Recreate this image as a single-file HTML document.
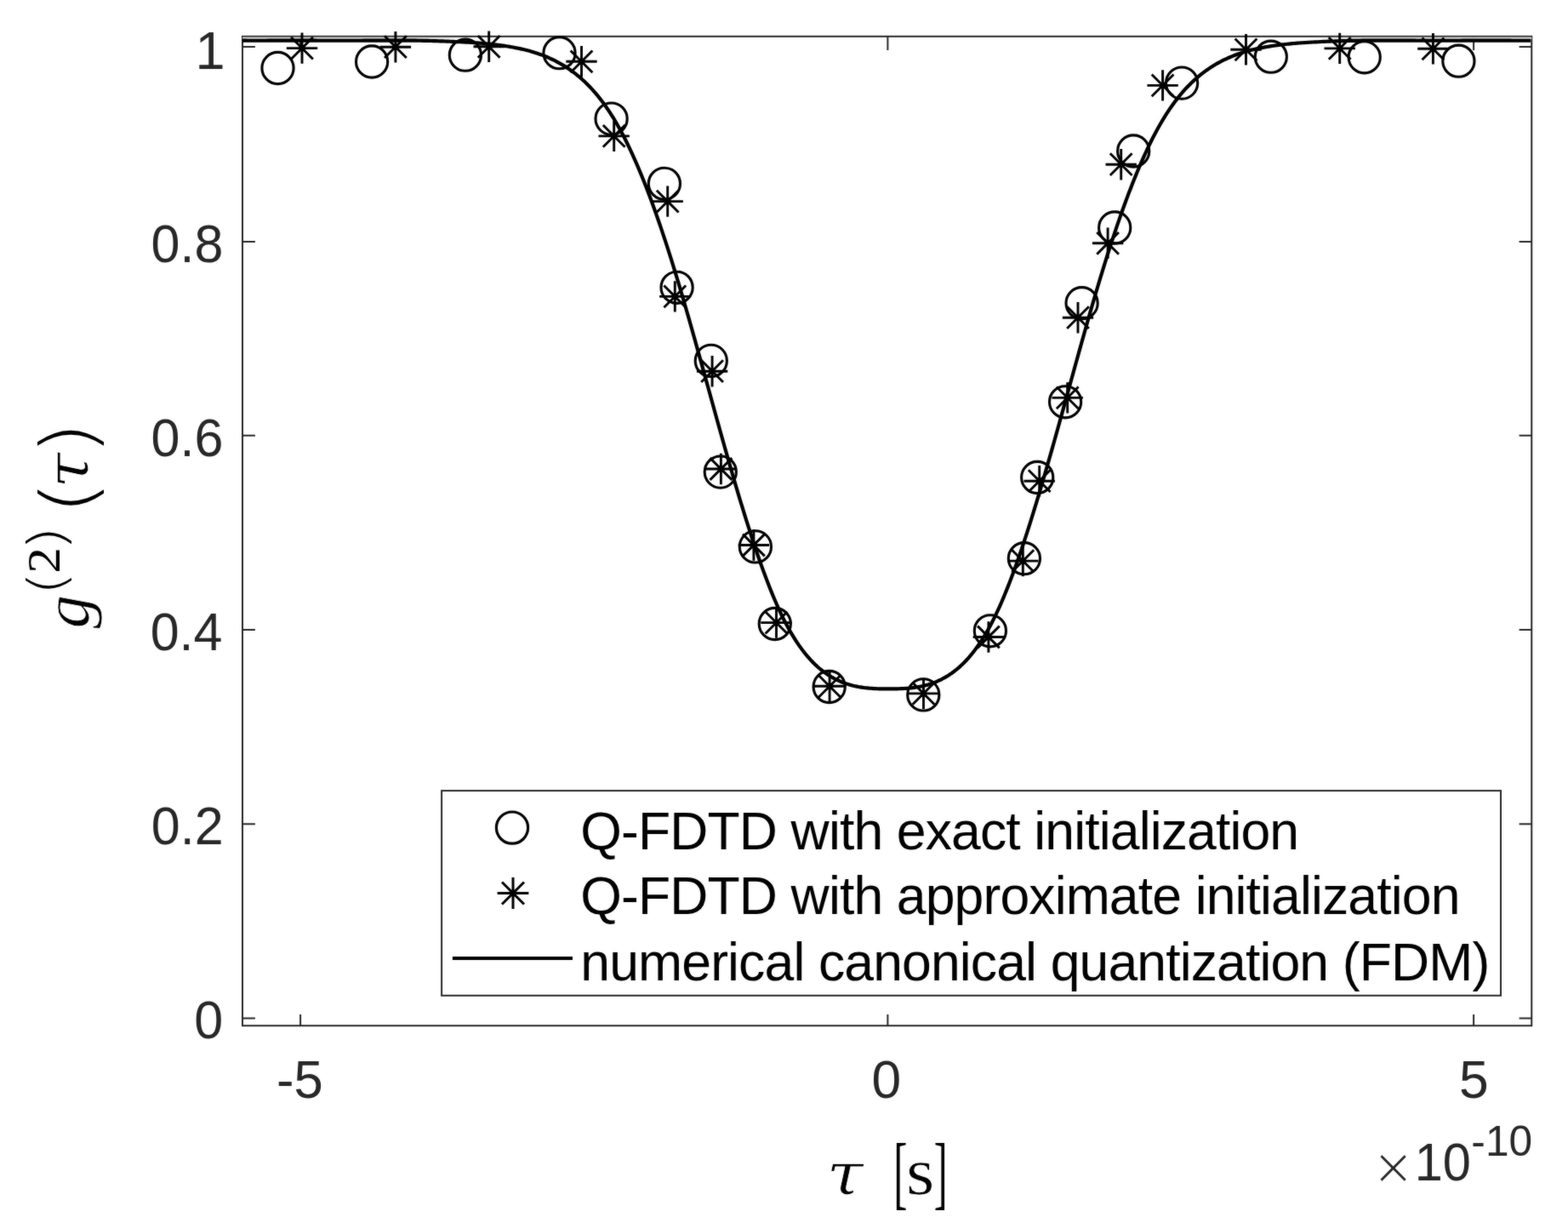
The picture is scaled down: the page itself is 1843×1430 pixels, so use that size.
<!DOCTYPE html>
<html lang="en"><head><meta charset="utf-8"><title>g2 plot</title>
<style>
html,body{margin:0;padding:0;background:#fff;}
body{width:1843px;height:1430px;overflow:hidden;}
svg{display:block;}
.lg{font-family:"Liberation Sans",sans-serif;font-size:62.5px;letter-spacing:-0.87px;fill:#000;}
</style></head><body>
<svg width="1843" height="1430" viewBox="0 0 1843 1430">
<rect x="0" y="0" width="1843" height="1430" fill="#fff"/>
<defs><filter id="soft" x="0" y="0" width="1843" height="1430" filterUnits="userSpaceOnUse" color-interpolation-filters="sRGB"><feGaussianBlur in="SourceGraphic" stdDeviation="0.8" result="b"/><feComposite in="SourceGraphic" in2="b" operator="arithmetic" k1="0" k2="0.70" k3="0.30" k4="0"/></filter></defs>
<g filter="url(#soft)">
<defs><clipPath id="ax"><rect x="285.0" y="42.8" width="1515.25" height="1162.40"/></clipPath></defs>
<g fill="none" stroke="#262626" stroke-width="2.0">
<rect x="285.0" y="42.8" width="1515.25" height="1162.40"/>
<path d="M353.10,1205.2V1192.0M353.10,42.8V58.9M1043.40,1205.2V1192.0M1043.40,42.8V58.9M1732.10,1205.2V1192.0M1732.10,42.8V58.9M285.0,55.10H299.9M1800.25,55.10H1785.6M285.0,284.00H299.9M1800.25,284.00H1785.6M285.0,511.80H299.9M1800.25,511.80H1785.6M285.0,740.00H299.9M1800.25,740.00H1785.6M285.0,968.20H299.9M1800.25,968.20H1785.6M285.0,1196.40H299.9M1800.25,1196.40H1785.6"/>
</g>
<defs><linearGradient id="gb" x1="0" x2="1" y1="0" y2="0"><stop offset="0" stop-color="#cfcfcf"/><stop offset="0.135" stop-color="#cfcfcf"/><stop offset="0.175" stop-color="#cfcfcf" stop-opacity="0"/><stop offset="0.83" stop-color="#cfcfcf" stop-opacity="0"/><stop offset="0.87" stop-color="#cfcfcf"/><stop offset="1" stop-color="#cfcfcf"/></linearGradient></defs>
<rect x="285.0" y="43.6" width="1515.25" height="2.4" fill="url(#gb)"/>
<g fill="none" stroke="#000">
<g stroke-width="3.1">
<circle cx="326.5" cy="80.0" r="18.6"/>
<circle cx="437.1" cy="72.5" r="18.6"/>
<circle cx="546.9" cy="64.7" r="18.6"/>
<circle cx="657.5" cy="62.2" r="18.6"/>
<circle cx="718.6" cy="139.6" r="18.6"/>
<circle cx="780.9" cy="215.8" r="18.6"/>
<circle cx="795.6" cy="337.8" r="18.6"/>
<circle cx="835.8" cy="423.9" r="18.6"/>
<circle cx="846.8" cy="554.6" r="18.6"/>
<circle cx="887.9" cy="642.4" r="18.6"/>
<circle cx="910.8" cy="733.0" r="18.6"/>
<circle cx="974.7" cy="807.0" r="18.6"/>
<circle cx="1085.3" cy="816.4" r="18.6"/>
<circle cx="1163.9" cy="741.3" r="18.6"/>
<circle cx="1203.9" cy="656.2" r="18.6"/>
<circle cx="1219.2" cy="561.0" r="18.6"/>
<circle cx="1252.1" cy="472.3" r="18.6"/>
<circle cx="1271.6" cy="356.2" r="18.6"/>
<circle cx="1310.2" cy="267.5" r="18.6"/>
<circle cx="1332.2" cy="177.5" r="18.6"/>
<circle cx="1389.1" cy="97.6" r="18.6"/>
<circle cx="1493.8" cy="66.7" r="18.6"/>
<circle cx="1603.7" cy="67.3" r="18.6"/>
<circle cx="1714.4" cy="71.7" r="18.6"/>
</g>
<path stroke-width="2.9" d="M336.80,56.60H373.20M355.00,38.40V74.80M342.13,43.73L367.87,69.47M342.13,69.47L367.87,43.73M446.70,55.20H483.10M464.90,37.00V73.40M452.03,42.33L477.77,68.07M452.03,68.07L477.77,42.33M556.50,54.80H592.90M574.70,36.60V73.00M561.83,41.93L587.57,67.67M561.83,67.67L587.57,41.93M665.30,72.30H701.70M683.50,54.10V90.50M670.63,59.43L696.37,85.17M670.63,85.17L696.37,59.43M703.50,159.90H739.90M721.70,141.70V178.10M708.83,147.03L734.57,172.77M708.83,172.77L734.57,147.03M766.50,236.60H802.90M784.70,218.40V254.80M771.83,223.73L797.57,249.47M771.83,249.47L797.57,223.73M775.10,348.40H811.50M793.30,330.20V366.60M780.43,335.53L806.17,361.27M780.43,361.27L806.17,335.53M818.90,436.20H855.30M837.10,418.00V454.40M824.23,423.33L849.97,449.07M824.23,449.07L849.97,423.33M829.20,551.00H865.60M847.40,532.80V569.20M834.53,538.13L860.27,563.87M834.53,563.87L860.27,538.13M867.70,640.50H904.10M885.90,622.30V658.70M873.03,627.63L898.77,653.37M873.03,653.37L898.77,627.63M894.30,731.60H930.70M912.50,713.40V749.80M899.63,718.73L925.37,744.47M899.63,744.47L925.37,718.73M956.90,806.30H993.30M975.10,788.10V824.50M962.23,793.43L987.97,819.17M962.23,819.17L987.97,793.43M1067.30,814.90H1103.70M1085.50,796.70V833.10M1072.63,802.03L1098.37,827.77M1072.63,827.77L1098.37,802.03M1143.70,748.50H1180.10M1161.90,730.30V766.70M1149.03,735.63L1174.77,761.37M1149.03,761.37L1174.77,735.63M1184.10,659.10H1220.50M1202.30,640.90V677.30M1189.43,646.23L1215.17,671.97M1189.43,671.97L1215.17,646.23M1203.50,565.20H1239.90M1221.70,547.00V583.40M1208.83,552.33L1234.57,578.07M1208.83,578.07L1234.57,552.33M1236.50,467.40H1272.90M1254.70,449.20V485.60M1241.83,454.53L1267.57,480.27M1241.83,480.27L1267.57,454.53M1248.80,373.20H1285.20M1267.00,355.00V391.40M1254.13,360.33L1279.87,386.07M1254.13,386.07L1279.87,360.33M1283.90,285.80H1320.30M1302.10,267.60V304.00M1289.23,272.93L1314.97,298.67M1289.23,298.67L1314.97,272.93M1299.50,193.20H1335.90M1317.70,175.00V211.40M1304.83,180.33L1330.57,206.07M1304.83,206.07L1330.57,180.33M1348.40,100.40H1384.80M1366.60,82.20V118.60M1353.73,87.53L1379.47,113.27M1353.73,113.27L1379.47,87.53M1446.30,58.30H1482.70M1464.50,40.10V76.50M1451.63,45.43L1477.37,71.17M1451.63,71.17L1477.37,45.43M1556.50,56.90H1592.90M1574.70,38.70V75.10M1561.83,44.03L1587.57,69.77M1561.83,69.77L1587.57,44.03M1666.20,57.30H1702.60M1684.40,39.10V75.50M1671.53,44.43L1697.27,70.17M1671.53,70.17L1697.27,44.43"/>
<path clip-path="url(#ax)" stroke-width="4.17" stroke-linejoin="round" d="M285.0,47.70 L287.0,47.70 L289.0,47.70 L291.0,47.72 L293.0,47.72 L295.0,47.73 L297.0,47.73 L299.0,47.73 L301.0,47.72 L303.0,47.72 L305.0,47.72 L307.0,47.72 L309.0,47.71 L311.0,47.71 L313.0,47.71 L315.0,47.70 L317.0,47.70 L319.0,47.69 L321.0,47.69 L323.0,47.68 L325.0,47.68 L327.0,47.68 L329.0,47.67 L331.0,47.67 L333.0,47.66 L335.0,47.66 L337.0,47.66 L339.0,47.65 L341.0,47.65 L343.0,47.65 L345.0,47.65 L347.0,47.65 L349.0,47.65 L351.0,47.65 L353.0,47.66 L355.0,47.66 L357.0,47.66 L359.0,47.67 L361.0,47.67 L363.0,47.68 L365.0,47.68 L367.0,47.69 L369.0,47.70 L371.0,47.70 L373.0,47.71 L375.0,47.72 L377.0,47.72 L379.0,47.73 L381.0,47.73 L383.0,47.74 L385.0,47.75 L387.0,47.75 L389.0,47.76 L391.0,47.76 L393.0,47.76 L395.0,47.77 L397.0,47.77 L399.0,47.77 L401.0,47.77 L403.0,47.77 L405.0,47.77 L407.0,47.77 L409.0,47.77 L411.0,47.76 L413.0,47.76 L415.0,47.75 L417.0,47.75 L419.0,47.74 L421.0,47.73 L423.0,47.72 L425.0,47.71 L427.0,47.70 L429.0,47.69 L431.0,47.68 L433.0,47.67 L435.0,47.65 L437.0,47.64 L439.0,47.63 L441.0,47.62 L443.0,47.61 L445.0,47.60 L447.0,47.59 L449.0,47.58 L451.0,47.57 L453.0,47.57 L455.0,47.56 L457.0,47.56 L459.0,47.55 L461.0,47.55 L463.0,47.55 L465.0,47.55 L467.0,47.55 L469.0,47.55 L471.0,47.56 L473.0,47.57 L475.0,47.58 L477.0,47.59 L479.0,47.60 L481.0,47.62 L483.0,47.64 L485.0,47.66 L487.0,47.68 L489.0,47.70 L491.0,47.73 L493.0,47.76 L495.0,47.79 L497.0,47.83 L499.0,47.86 L501.0,47.90 L503.0,47.94 L505.0,47.99 L507.0,48.03 L509.0,48.08 L511.0,48.14 L513.0,48.19 L515.0,48.25 L517.0,48.31 L519.0,48.37 L521.0,48.44 L523.0,48.51 L525.0,48.58 L527.0,48.65 L529.0,48.73 L531.0,48.81 L533.0,48.89 L535.0,48.98 L537.0,49.07 L539.0,49.16 L541.0,49.25 L543.0,49.35 L545.0,49.45 L547.0,49.56 L549.0,49.67 L551.0,49.78 L553.0,49.90 L555.0,50.03 L557.0,50.16 L559.0,50.29 L561.0,50.44 L563.0,50.59 L565.0,50.75 L567.0,50.91 L569.0,51.09 L571.0,51.27 L573.0,51.46 L575.0,51.66 L577.0,51.87 L579.0,52.08 L581.0,52.31 L583.0,52.55 L585.0,52.80 L587.0,53.06 L589.0,53.33 L591.0,53.61 L593.0,53.90 L595.0,54.21 L597.0,54.53 L599.0,54.86 L601.0,55.21 L603.0,55.56 L605.0,55.94 L607.0,56.33 L609.0,56.73 L611.0,57.15 L613.0,57.59 L615.0,58.05 L617.0,58.53 L619.0,59.03 L621.0,59.56 L623.0,60.10 L625.0,60.67 L627.0,61.27 L629.0,61.89 L631.0,62.54 L633.0,63.22 L635.0,63.92 L637.0,64.66 L639.0,65.42 L641.0,66.22 L643.0,67.05 L645.0,67.92 L647.0,68.82 L649.0,69.75 L651.0,70.72 L653.0,71.73 L655.0,72.78 L657.0,73.87 L659.0,75.00 L661.0,76.17 L663.0,77.38 L665.0,78.63 L667.0,79.93 L669.0,81.28 L671.0,82.67 L673.0,84.12 L675.0,85.61 L677.0,87.17 L679.0,88.77 L681.0,90.44 L683.0,92.16 L685.0,93.95 L687.0,95.79 L689.0,97.71 L691.0,99.69 L693.0,101.74 L695.0,103.86 L697.0,106.05 L699.0,108.32 L701.0,110.67 L703.0,113.09 L705.0,115.59 L707.0,118.18 L709.0,120.84 L711.0,123.60 L713.0,126.44 L715.0,129.37 L717.0,132.40 L719.0,135.51 L721.0,138.72 L723.0,142.03 L725.0,145.44 L727.0,148.95 L729.0,152.56 L731.0,156.27 L733.0,160.09 L735.0,164.00 L737.0,168.02 L739.0,172.14 L741.0,176.35 L743.0,180.67 L745.0,185.08 L747.0,189.58 L749.0,194.19 L751.0,198.88 L753.0,203.67 L755.0,208.55 L757.0,213.53 L759.0,218.59 L761.0,223.74 L763.0,228.99 L765.0,234.32 L767.0,239.74 L769.0,245.25 L771.0,250.84 L773.0,256.52 L775.0,262.28 L777.0,268.12 L779.0,274.05 L781.0,280.06 L783.0,286.14 L785.0,292.31 L787.0,298.56 L789.0,304.89 L791.0,311.29 L793.0,317.77 L795.0,324.32 L797.0,330.94 L799.0,337.63 L801.0,344.38 L803.0,351.19 L805.0,358.05 L807.0,364.97 L809.0,371.93 L811.0,378.93 L813.0,385.98 L815.0,393.06 L817.0,400.17 L819.0,407.32 L821.0,414.48 L823.0,421.67 L825.0,428.88 L827.0,436.10 L829.0,443.33 L831.0,450.57 L833.0,457.81 L835.0,465.05 L837.0,472.29 L839.0,479.52 L841.0,486.74 L843.0,493.94 L845.0,501.12 L847.0,508.28 L849.0,515.42 L851.0,522.52 L853.0,529.59 L855.0,536.62 L857.0,543.62 L859.0,550.57 L861.0,557.47 L863.0,564.32 L865.0,571.12 L867.0,577.86 L869.0,584.55 L871.0,591.17 L873.0,597.72 L875.0,604.21 L877.0,610.62 L879.0,616.96 L881.0,623.22 L883.0,629.41 L885.0,635.50 L887.0,641.51 L889.0,647.43 L891.0,653.26 L893.0,658.99 L895.0,664.62 L897.0,670.14 L899.0,675.56 L901.0,680.88 L903.0,686.08 L905.0,691.16 L907.0,696.13 L909.0,700.98 L911.0,705.70 L913.0,710.29 L915.0,714.75 L917.0,719.08 L919.0,723.28 L921.0,727.33 L923.0,731.25 L925.0,735.05 L927.0,738.71 L929.0,742.24 L931.0,745.65 L933.0,748.94 L935.0,752.10 L937.0,755.15 L939.0,758.09 L941.0,760.91 L943.0,763.63 L945.0,766.23 L947.0,768.73 L949.0,771.13 L951.0,773.43 L953.0,775.63 L955.0,777.73 L957.0,779.74 L959.0,781.66 L961.0,783.49 L963.0,785.24 L965.0,786.90 L967.0,788.49 L969.0,789.99 L971.0,791.42 L973.0,792.77 L975.0,794.05 L977.0,795.27 L979.0,796.41 L981.0,797.50 L983.0,798.52 L985.0,799.48 L987.0,800.38 L989.0,801.23 L991.0,802.03 L993.0,802.77 L995.0,803.46 L997.0,804.10 L999.0,804.69 L1001.0,805.24 L1003.0,805.75 L1005.0,806.21 L1007.0,806.63 L1009.0,807.02 L1011.0,807.36 L1013.0,807.68 L1015.0,807.96 L1017.0,808.21 L1019.0,808.43 L1021.0,808.62 L1023.0,808.79 L1025.0,808.93 L1027.0,809.05 L1029.0,809.15 L1031.0,809.23 L1033.0,809.30 L1035.0,809.35 L1037.0,809.38 L1039.0,809.41 L1041.0,809.42 L1043.0,809.43 L1045.0,809.43 L1047.0,809.43 L1049.0,809.42 L1051.0,809.40 L1053.0,809.37 L1055.0,809.32 L1057.0,809.27 L1059.0,809.19 L1061.0,809.10 L1063.0,808.99 L1065.0,808.86 L1067.0,808.71 L1069.0,808.53 L1071.0,808.32 L1073.0,808.09 L1075.0,807.82 L1077.0,807.53 L1079.0,807.19 L1081.0,806.83 L1083.0,806.42 L1085.0,805.98 L1087.0,805.50 L1089.0,804.97 L1091.0,804.40 L1093.0,803.78 L1095.0,803.12 L1097.0,802.40 L1099.0,801.64 L1101.0,800.82 L1103.0,799.94 L1105.0,799.01 L1107.0,798.02 L1109.0,796.96 L1111.0,795.85 L1113.0,794.67 L1115.0,793.42 L1117.0,792.10 L1119.0,790.71 L1121.0,789.25 L1123.0,787.70 L1125.0,786.08 L1127.0,784.38 L1129.0,782.59 L1131.0,780.71 L1133.0,778.75 L1135.0,776.69 L1137.0,774.54 L1139.0,772.29 L1141.0,769.94 L1143.0,767.50 L1145.0,764.94 L1147.0,762.28 L1149.0,759.52 L1151.0,756.64 L1153.0,753.64 L1155.0,750.54 L1157.0,747.31 L1159.0,743.96 L1161.0,740.49 L1163.0,736.89 L1165.0,733.17 L1167.0,729.31 L1169.0,725.32 L1171.0,721.20 L1173.0,716.93 L1175.0,712.54 L1177.0,708.01 L1179.0,703.35 L1181.0,698.57 L1183.0,693.66 L1185.0,688.63 L1187.0,683.49 L1189.0,678.23 L1191.0,672.87 L1193.0,667.39 L1195.0,661.81 L1197.0,656.13 L1199.0,650.36 L1201.0,644.48 L1203.0,638.52 L1205.0,632.46 L1207.0,626.33 L1209.0,620.10 L1211.0,613.80 L1213.0,607.42 L1215.0,600.97 L1217.0,594.45 L1219.0,587.86 L1221.0,581.21 L1223.0,574.50 L1225.0,567.73 L1227.0,560.90 L1229.0,554.02 L1231.0,547.10 L1233.0,540.13 L1235.0,533.11 L1237.0,526.06 L1239.0,518.97 L1241.0,511.85 L1243.0,504.70 L1245.0,497.53 L1247.0,490.34 L1249.0,483.13 L1251.0,475.90 L1253.0,468.67 L1255.0,461.43 L1257.0,454.19 L1259.0,446.95 L1261.0,439.71 L1263.0,432.49 L1265.0,425.27 L1267.0,418.08 L1269.0,410.90 L1271.0,403.74 L1273.0,396.61 L1275.0,389.52 L1277.0,382.45 L1279.0,375.43 L1281.0,368.44 L1283.0,361.50 L1285.0,354.62 L1287.0,347.78 L1289.0,341.00 L1291.0,334.28 L1293.0,327.62 L1295.0,321.03 L1297.0,314.52 L1299.0,308.08 L1301.0,301.71 L1303.0,295.43 L1305.0,289.22 L1307.0,283.09 L1309.0,277.04 L1311.0,271.07 L1313.0,265.19 L1315.0,259.39 L1317.0,253.67 L1319.0,248.03 L1321.0,242.48 L1323.0,237.02 L1325.0,231.64 L1327.0,226.36 L1329.0,221.16 L1331.0,216.05 L1333.0,211.03 L1335.0,206.10 L1337.0,201.26 L1339.0,196.52 L1341.0,191.87 L1343.0,187.32 L1345.0,182.86 L1347.0,178.50 L1349.0,174.23 L1351.0,170.07 L1353.0,166.00 L1355.0,162.03 L1357.0,158.17 L1359.0,154.40 L1361.0,150.74 L1363.0,147.18 L1365.0,143.72 L1367.0,140.37 L1369.0,137.11 L1371.0,133.94 L1373.0,130.87 L1375.0,127.90 L1377.0,125.01 L1379.0,122.21 L1381.0,119.50 L1383.0,116.87 L1385.0,114.33 L1387.0,111.87 L1389.0,109.48 L1391.0,107.18 L1393.0,104.95 L1395.0,102.79 L1397.0,100.71 L1399.0,98.69 L1401.0,96.74 L1403.0,94.86 L1405.0,93.05 L1407.0,91.29 L1409.0,89.60 L1411.0,87.96 L1413.0,86.38 L1415.0,84.86 L1417.0,83.39 L1419.0,81.97 L1421.0,80.60 L1423.0,79.28 L1425.0,78.00 L1427.0,76.77 L1429.0,75.58 L1431.0,74.43 L1433.0,73.32 L1435.0,72.25 L1437.0,71.22 L1439.0,70.23 L1441.0,69.28 L1443.0,68.36 L1445.0,67.48 L1447.0,66.63 L1449.0,65.82 L1451.0,65.04 L1453.0,64.29 L1455.0,63.57 L1457.0,62.87 L1459.0,62.21 L1461.0,61.58 L1463.0,60.97 L1465.0,60.39 L1467.0,59.83 L1469.0,59.29 L1471.0,58.78 L1473.0,58.29 L1475.0,57.82 L1477.0,57.37 L1479.0,56.94 L1481.0,56.53 L1483.0,56.13 L1485.0,55.75 L1487.0,55.38 L1489.0,55.03 L1491.0,54.69 L1493.0,54.37 L1495.0,54.05 L1497.0,53.75 L1499.0,53.47 L1501.0,53.19 L1503.0,52.93 L1505.0,52.67 L1507.0,52.43 L1509.0,52.20 L1511.0,51.97 L1513.0,51.76 L1515.0,51.56 L1517.0,51.36 L1519.0,51.18 L1521.0,51.00 L1523.0,50.83 L1525.0,50.67 L1527.0,50.51 L1529.0,50.37 L1531.0,50.23 L1533.0,50.09 L1535.0,49.96 L1537.0,49.84 L1539.0,49.72 L1541.0,49.61 L1543.0,49.51 L1545.0,49.40 L1547.0,49.30 L1549.0,49.21 L1551.0,49.11 L1553.0,49.02 L1555.0,48.93 L1557.0,48.85 L1559.0,48.77 L1561.0,48.69 L1563.0,48.61 L1565.0,48.54 L1567.0,48.47 L1569.0,48.40 L1571.0,48.34 L1573.0,48.28 L1575.0,48.22 L1577.0,48.16 L1579.0,48.11 L1581.0,48.06 L1583.0,48.01 L1585.0,47.97 L1587.0,47.92 L1589.0,47.88 L1591.0,47.84 L1593.0,47.81 L1595.0,47.78 L1597.0,47.74 L1599.0,47.72 L1601.0,47.69 L1603.0,47.67 L1605.0,47.65 L1607.0,47.63 L1609.0,47.61 L1611.0,47.59 L1613.0,47.58 L1615.0,47.57 L1617.0,47.56 L1619.0,47.56 L1621.0,47.55 L1623.0,47.55 L1625.0,47.55 L1627.0,47.55 L1629.0,47.55 L1631.0,47.55 L1633.0,47.56 L1635.0,47.56 L1637.0,47.57 L1639.0,47.58 L1641.0,47.59 L1643.0,47.60 L1645.0,47.61 L1647.0,47.62 L1649.0,47.63 L1651.0,47.64 L1653.0,47.65 L1655.0,47.66 L1657.0,47.67 L1659.0,47.68 L1661.0,47.69 L1663.0,47.70 L1665.0,47.71 L1667.0,47.72 L1669.0,47.73 L1671.0,47.74 L1673.0,47.75 L1675.0,47.76 L1677.0,47.76 L1679.0,47.77 L1681.0,47.77 L1683.0,47.77 L1685.0,47.77 L1687.0,47.77 L1689.0,47.77 L1691.0,47.77 L1693.0,47.77 L1695.0,47.77 L1697.0,47.76 L1699.0,47.76 L1701.0,47.75 L1703.0,47.75 L1705.0,47.74 L1707.0,47.74 L1709.0,47.73 L1711.0,47.72 L1713.0,47.72 L1715.0,47.71 L1717.0,47.71 L1719.0,47.70 L1721.0,47.69 L1723.0,47.69 L1725.0,47.68 L1727.0,47.68 L1729.0,47.67 L1731.0,47.67 L1733.0,47.66 L1735.0,47.66 L1737.0,47.66 L1739.0,47.65 L1741.0,47.65 L1743.0,47.65 L1745.0,47.65 L1747.0,47.65 L1749.0,47.65 L1751.0,47.66 L1753.0,47.66 L1755.0,47.66 L1757.0,47.67 L1759.0,47.67 L1761.0,47.67 L1763.0,47.68 L1765.0,47.68 L1767.0,47.69 L1769.0,47.69 L1771.0,47.70 L1773.0,47.70 L1775.0,47.70 L1777.0,47.71 L1779.0,47.71 L1781.0,47.72 L1783.0,47.72 L1785.0,47.72 L1787.0,47.72 L1789.0,47.72 L1791.0,47.73 L1793.0,47.73 L1795.0,47.73 L1797.0,47.72 L1799.0,47.72"/>
</g>
<rect x="519.1" y="929.1" width="1244.9" height="240.7" fill="#fff" stroke="#262626" stroke-width="2.0"/>
<g fill="none" stroke="#000"><circle cx="602.0" cy="972.6" r="18.6" stroke-width="3.2"/><path stroke-width="3.0" d="M584.60,1049.50H621.40M603.00,1031.10V1067.90M589.99,1036.49L616.01,1062.51M589.99,1062.51L616.01,1036.49"/><path stroke-width="4.17" d="M531.9,1126H673.0"/></g>
<text class="lg" x="682.3" y="998">Q-FDTD with exact initialization</text>
<text class="lg" x="682.3" y="1074.2">Q-FDTD with approximate initialization</text>
<text class="lg" x="682.3" y="1152.3">numerical canonical quantization (FDM)</text>
<text transform="matrix(0.6100 0 0 0.6268 228.19 1220.17)" font-family="'Liberation Sans', sans-serif" font-size="100" fill="#262626">0</text>
<text transform="matrix(0.6100 0 0 0.6268 177.86 991.97)" font-family="'Liberation Sans', sans-serif" font-size="100" fill="#262626">0.2</text>
<text transform="matrix(0.6100 0 0 0.6268 176.64 763.77)" font-family="'Liberation Sans', sans-serif" font-size="100" fill="#262626">0.4</text>
<text transform="matrix(0.6100 0 0 0.6268 177.56 535.57)" font-family="'Liberation Sans', sans-serif" font-size="100" fill="#262626">0.6</text>
<text transform="matrix(0.6100 0 0 0.6268 177.56 307.77)" font-family="'Liberation Sans', sans-serif" font-size="100" fill="#262626">0.8</text>
<text transform="matrix(0.6302 0 0 0.6362 229.57 80.50)" font-family="'Liberation Sans', sans-serif" font-size="100" fill="#262626">1</text>
<text transform="matrix(0.6150 0 0 0.6300 325.03 1290.17)" font-family="'Liberation Sans', sans-serif" font-size="100" fill="#262626">-5</text>
<text transform="matrix(0.6232 0 0 0.6282 1024.41 1290.17)" font-family="'Liberation Sans', sans-serif" font-size="100" fill="#262626">0</text>
<text transform="matrix(0.6232 0 0 0.6300 1715.01 1290.17)" font-family="'Liberation Sans', sans-serif" font-size="100" fill="#262626">5</text>
<text transform="matrix(0.5864 0 0 0.5864 1613.12 1391.03)" font-family="'DejaVu Sans', sans-serif" font-weight="200" font-size="100" fill="#262626">×</text><text transform="matrix(0.5950 0 0 0.6282 1662.74 1387.47)" font-family="'Liberation Sans', sans-serif" font-size="100" fill="#262626">10</text><text transform="matrix(0.4963 0 0 0.5014 1729.37 1358.00)" font-family="'Liberation Sans', sans-serif" font-size="100" fill="#262626">-10</text>
<text transform="matrix(0.7811 0 0 0.6867 971.50 1403.03)" font-family="'DejaVu Serif', serif" font-style="italic" font-size="100" fill="#000" stroke="#fff" stroke-width="1.12" stroke-linejoin="round">τ</text><text transform="matrix(0.4864 0 0 0.9624 1050.35 1409.11)" font-family="'Liberation Serif', serif" font-size="100" fill="#000">[</text><text transform="matrix(0.8581 0 0 0.7785 1065.10 1402.86)" font-family="'Liberation Serif', serif" font-size="100" fill="#000" stroke="#fff" stroke-width="0.88" stroke-linejoin="round">s</text><text transform="matrix(0.4756 0 0 0.9624 1097.74 1409.11)" font-family="'Liberation Serif', serif" font-size="100" fill="#000">]</text>
<g transform="translate(103 738.2) rotate(-90)"><text transform="matrix(0.7896 0 0 0.7586 -0.36 0.51)" font-family="'Liberation Serif', serif" font-style="italic" font-size="100" fill="#000" stroke="#fff" stroke-width="0.92" stroke-linejoin="round">g</text><text transform="matrix(0.7257 0 0 0.6124 38.42 -27.36)" font-family="'DejaVu Sans', sans-serif" font-weight="200" font-size="100" fill="#000">(</text><text transform="matrix(0.6125 0 0 0.5515 64.54 -33.00)" font-family="'Liberation Serif', serif" font-size="100" fill="#000">2</text><text transform="matrix(0.7771 0 0 0.6124 90.55 -27.36)" font-family="'DejaVu Sans', sans-serif" font-weight="200" font-size="100" fill="#000">)</text><text transform="matrix(1.0343 0 0 0.8787 133.22 7.38)" font-family="'DejaVu Sans', sans-serif" font-weight="200" font-size="100" fill="#000">(</text><text transform="matrix(0.7568 0 0 0.6831 164.36 0.34)" font-family="'DejaVu Serif', serif" font-style="italic" font-size="100" fill="#000" stroke="#fff" stroke-width="1.14" stroke-linejoin="round">τ</text><text transform="matrix(1.0057 0 0 0.8787 203.54 7.38)" font-family="'DejaVu Sans', sans-serif" font-weight="200" font-size="100" fill="#000">)</text></g>
</g>
</svg>
</body></html>
